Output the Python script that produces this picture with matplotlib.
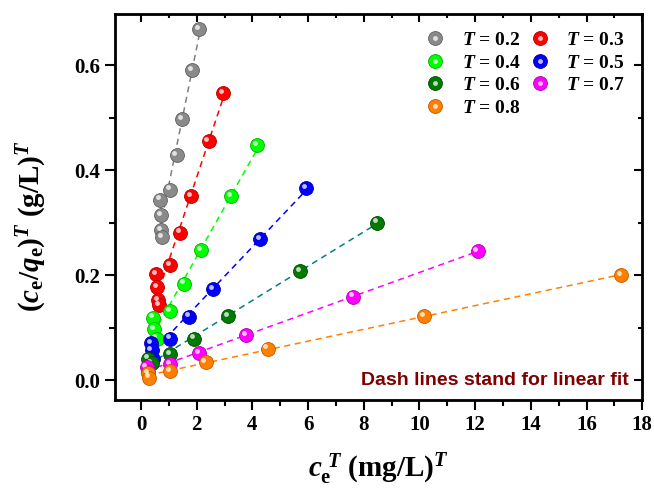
import numpy as np
import matplotlib
matplotlib.use('Agg')
import matplotlib.pyplot as plt
from matplotlib.transforms import offset_copy
from matplotlib.legend_handler import HandlerTuple

plt.rcParams['font.family'] = 'Liberation Serif'
plt.rcParams['font.weight'] = 'bold'
plt.rcParams['mathtext.fontset'] = 'custom'
plt.rcParams['mathtext.it'] = 'Liberation Serif:italic:bold'
plt.rcParams['mathtext.rm'] = 'Liberation Serif'
plt.rcParams['mathtext.bf'] = 'Liberation Serif:bold'

# data
T_values = ['0.2', '0.3', '0.4', '0.5', '0.6', '0.7', '0.8']
x_02 = [2.08, 1.83, 1.49, 1.28, 1.04, 0.68, 0.71, 0.72, 0.76]
y_02 = [0.669, 0.590, 0.497, 0.429, 0.363, 0.344, 0.315, 0.286, 0.272]
x_03 = [2.95, 2.43, 1.80, 1.40, 1.04, 0.54, 0.58, 0.61, 0.66]
y_03 = [0.547, 0.455, 0.351, 0.281, 0.219, 0.202, 0.177, 0.152, 0.143]
x_04 = [4.18, 3.23, 2.15, 1.54, 1.04, 0.44, 0.48, 0.56]
y_04 = [0.447, 0.350, 0.248, 0.184, 0.132, 0.119, 0.098, 0.079]
x_05 = [5.94, 4.29, 2.59, 1.72, 1.04, 0.36, 0.38, 0.44]
y_05 = [0.366, 0.269, 0.174, 0.121, 0.079, 0.071, 0.057, 0.041]
x_06 = [8.48, 5.71, 3.14, 1.90, 1.04, 0.26, 0.38]
y_06 = [0.300, 0.208, 0.122, 0.079, 0.049, 0.041, 0.032]
x_07 = [12.09, 7.61, 3.78, 2.09, 1.04, 0.20, 0.26]
y_07 = [0.246, 0.159, 0.086, 0.052, 0.030, 0.025, 0.016]
x_08 = [17.23, 10.16, 4.55, 2.32, 1.04, 0.26, 0.30]
y_08 = [0.200, 0.122, 0.060, 0.034, 0.017, 0.013, 0.005]

xs = [x_02, x_03, x_04, x_05, x_06, x_07, x_08]
ys = [y_02, y_03, y_04, y_05, y_06, y_07, y_08]
marker_colors = ['#8a8a8a', '#ff0000', '#00ff00', '#0000ff', '#007a00', '#ff00ff', '#ff8000']
edge_colors = ['#606060', '#b00000', '#00b000', '#0000a0', '#004a00', '#b000b0', '#c05a00']
line_colors = ['#808080', '#ff0000', '#00ff00', '#0000ff', '#008080', '#ff00ff', '#ff8000']

fig = plt.figure(figsize=(6.54, 4.88), dpi=100)
ax = fig.add_axes([0.176, 0.180, 0.806, 0.791])
hl_trans = offset_copy(ax.transData, fig=fig, x=-1.6, y=1.6, units='points')

handles = []
for i, (x, y) in enumerate(zip(xs, ys)):
    x = np.array(x)
    y = np.array(y)
    k, b = np.polyfit(x, y, 1)
    xx = np.array([x.min(), x.max()])
    ax.plot(xx, k * xx + b, '--', color=line_colors[i], lw=1.1, dashes=(4, 3), zorder=2)
    base, = ax.plot(x, y, 'o', ms=10, color=marker_colors[i], mec=edge_colors[i],
                    mew=0.6, zorder=3 + i, linestyle='none')
    ax.plot(x, y, 'o', ms=3.5, color='white', mec='none', alpha=0.75,
            transform=hl_trans, zorder=3 + i, linestyle='none')
    hl, = ax.plot([], [], 'o', ms=3.5, color='white', mec='none', alpha=0.75)
    handles.append((base, hl))

labels = [r'$T$ = ' + t for t in T_values]
order = [0, 2, 4, 6, 1, 3, 5]
ax.legend([handles[j] for j in order], [labels[j] for j in order], ncol=2,
          loc='upper right', bbox_to_anchor=(1.0, 1.0), frameon=False,
          handler_map={tuple: HandlerTuple(ndivide=1)},
          numpoints=1, handlelength=1.2, handletextpad=0.75, columnspacing=0.4,
          labelspacing=0.25, prop={'size': 14, 'weight': 'bold'})

ax.set_xlim(-0.93, 18)
ax.set_ylim(-0.038, 0.697)
ax.set_xticks(np.arange(0, 19, 2))
ax.set_xticks(np.arange(0, 19, 1), minor=True)
ax.set_yticks([0.0, 0.2, 0.4, 0.6])
ax.set_yticks(np.arange(0, 0.7, 0.1), minor=True)
ax.set_yticklabels(['0.0', '0.2', '0.4', '0.6'])

for s in ax.spines.values():
    s.set_linewidth(2.0)
ax.tick_params(which='both', labelsize=15, width=1.5, direction='out',
               top=False, right=False)
ax.tick_params(which='major', length=7)
ax.tick_params(which='minor', length=4)
for t in ax.get_xticklabels() + ax.get_yticklabels():
    t.set_fontweight('bold')

# inward ticks on top / right
ax2 = ax.twiny()
ax2.set_xlim(ax.get_xlim())
ax2.set_xticks(ax.get_xticks())
ax2.set_xticks(ax.get_xticks(minor=True), minor=True)
ax2.tick_params(which='both', direction='in', labeltop=False, width=1.5)
ax2.tick_params(which='major', length=6)
ax2.tick_params(which='minor', length=3)
ax3 = ax.twinx()
ax3.set_ylim(ax.get_ylim())
ax3.set_yticks(ax.get_yticks())
ax3.set_yticks(ax.get_yticks(minor=True), minor=True)
ax3.tick_params(which='both', direction='in', labelright=False, width=1.5)
ax3.tick_params(which='major', length=6)
ax3.tick_params(which='minor', length=3)

ax.set_xlabel(r'$c_{\rm e}^{\ T}$ (mg/L)$^{T}$', fontsize=21,
              fontweight='bold', labelpad=12)
ax.set_ylabel(r'($c_{\rm e}$/$q_{\rm e}$)$^{T}$ (g/L)$^{T}$', fontsize=21,
              fontweight='bold')
ax.yaxis.set_label_coords(-0.125, 0.451)

ax.text(0.974, 0.03, 'Dash lines stand for linear fit', transform=ax.transAxes,
        ha='right', va='bottom', color='#800000', fontsize=14,
        fontfamily='Liberation Sans', fontweight='bold')

fig.savefig('out.png', dpi=100)
